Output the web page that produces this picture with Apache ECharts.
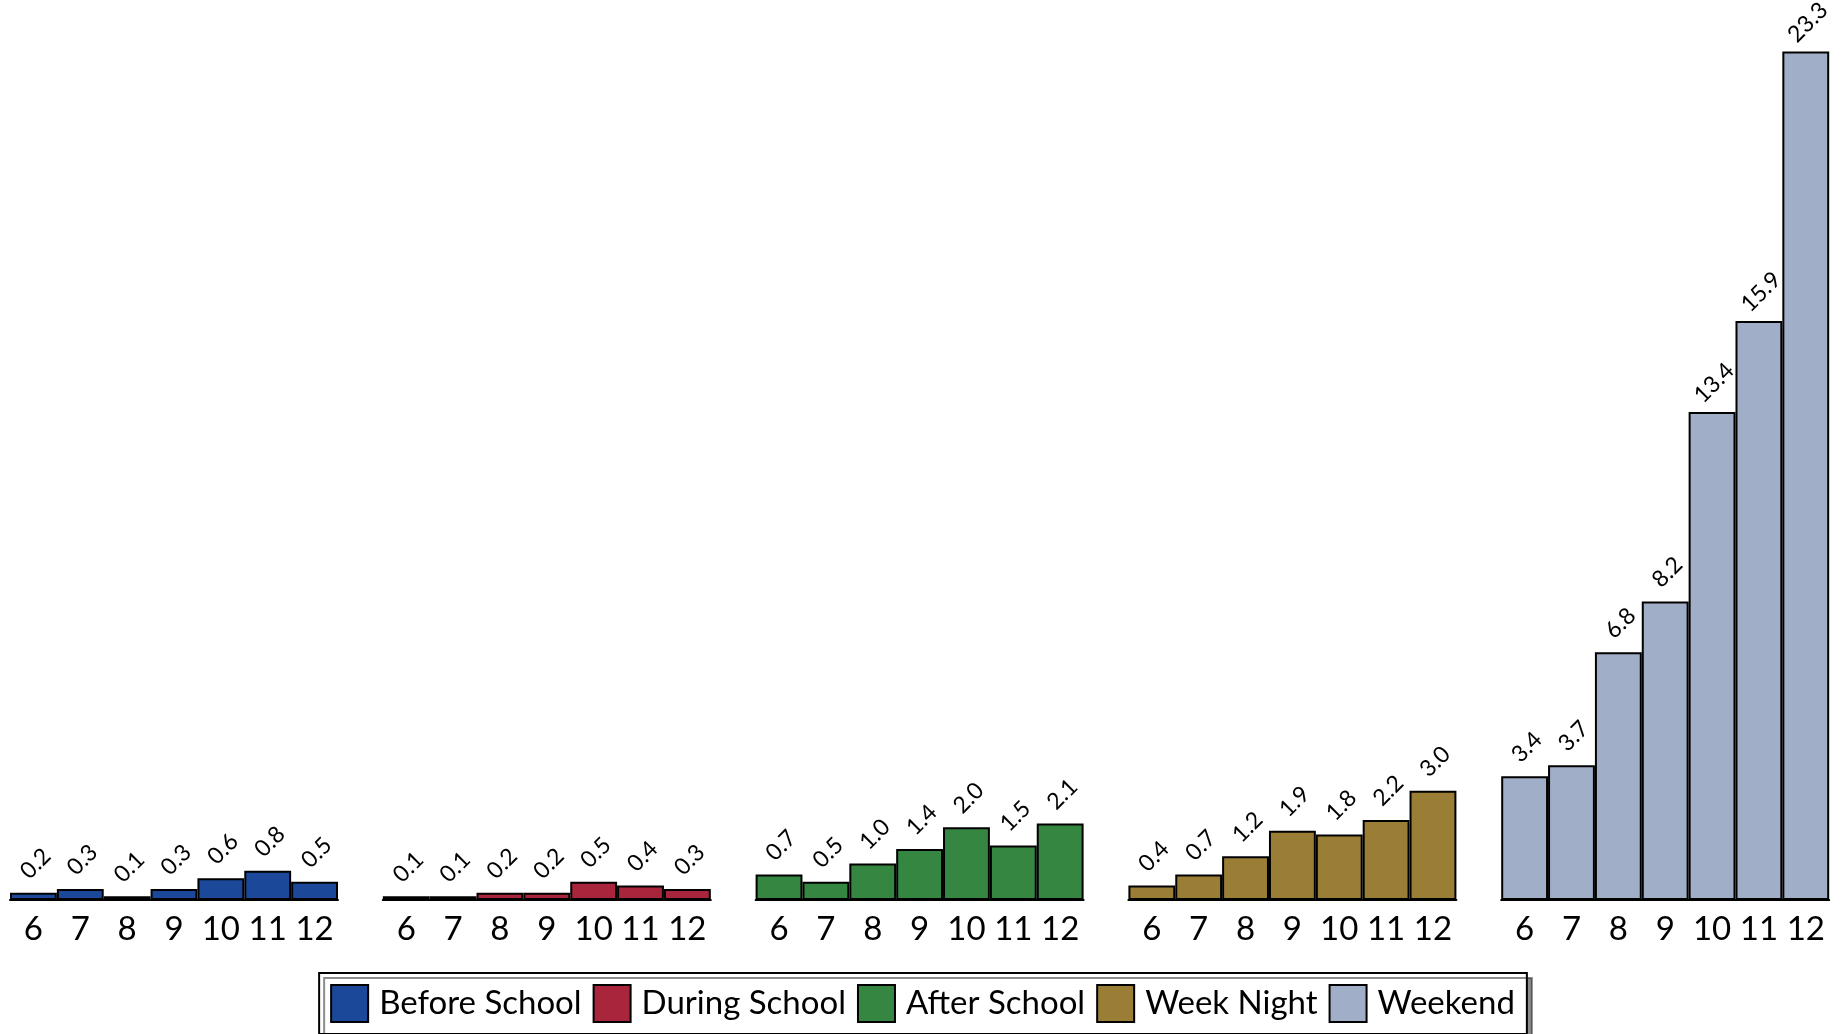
<!DOCTYPE html>
<html>
<head>
<meta charset="utf-8">
<script src="https://cdn.jsdelivr.net/npm/echarts@6/dist/echarts.min.js"></script>
<style>
	html, body { margin: 0; padding: 0; background: #fff; }
	#chart { width: 1845px; height: 1034px; }
</style>
</head>
<body>
<div id="chart"></div>
<script>
const grades = ["6", "7", "8", "9", "10", "11", "12"];
const seriesNames = ["Before School", "During School", "After School", "Week Night", "Weekend"];
const beforeSchool = [0.2, 0.3, 0.1, 0.3, 0.6, 0.8, 0.5];
const duringSchool = [0.1, 0.1, 0.2, 0.2, 0.5, 0.4, 0.3];
const afterSchool = [0.7, 0.5, 1.0, 1.4, 2.0, 1.5, 2.1];
const weekNight = [0.4, 0.7, 1.2, 1.9, 1.8, 2.2, 3.0];
const weekend = [3.4, 3.7, 6.8, 8.2, 13.4, 15.9, 23.3];
const colors = ["#1b4899", "#a8253b", "#358641", "#9b7e35", "#a0afc7"];

const allValues = [beforeSchool, duringSchool, afterSchool, weekNight, weekend];
const font = "Lato";

const grids = [];
const xAxes = [];
const yAxes = [];
const series = [];

// one small grid per time-of-day group, all sharing the same y scale
allValues.forEach((values, i) => {
	grids.push({ left: 10 + i * 372.8, width: 328, top: 26, bottom: 134 });
	xAxes.push({
		type: "category",
		gridIndex: i,
		data: grades,
		axisLine: { show: true, lineStyle: { color: "#000", width: 2 } },
		axisTick: { show: false },
		axisLabel: { color: "#000", fontSize: 33, fontFamily: font, margin: 13, interval: 0 }
	});
	yAxes.push({ type: "value", gridIndex: i, min: 0, max: 24, show: false, splitLine: { show: false } });
	series.push({
		type: "bar",
		name: seriesNames[i],
		xAxisIndex: i,
		yAxisIndex: i,
		data: values,
		barCategoryGap: 0,
		itemStyle: { color: colors[i], borderColor: "#000", borderWidth: 2 },
		label: {
			show: true,
			position: "top",
			distance: 27,
			offset: [3, 0],
			rotate: 45,
			align: "center",
			verticalAlign: "middle",
			color: "#000",
			fontSize: 23,
			fontFamily: font,
			formatter: p => p.value.toFixed(1)
		}
	});
});

const chart = echarts.init(document.getElementById("chart"));
chart.setOption({
	animation: false,
	grid: grids,
	xAxis: xAxes,
	yAxis: yAxes,
	legend: {
		data: seriesNames,
		icon: "rect",
		left: "center",
		top: 973,
		padding: [11, 12, 11, 11],
		itemWidth: 37,
		itemHeight: 37,
		itemGap: 11,
		borderColor: "#000",
		borderWidth: 2,
		backgroundColor: "#fff",
		shadowColor: "rgba(0,0,0,0.45)",
		shadowOffsetX: 5,
		shadowOffsetY: 5,
		shadowBlur: 0,
		textStyle: { color: "#000", fontSize: 33, fontFamily: font, padding: [0, 0, 0, 6] }
	},
	series: series
});
</script>
</body>
</html>
